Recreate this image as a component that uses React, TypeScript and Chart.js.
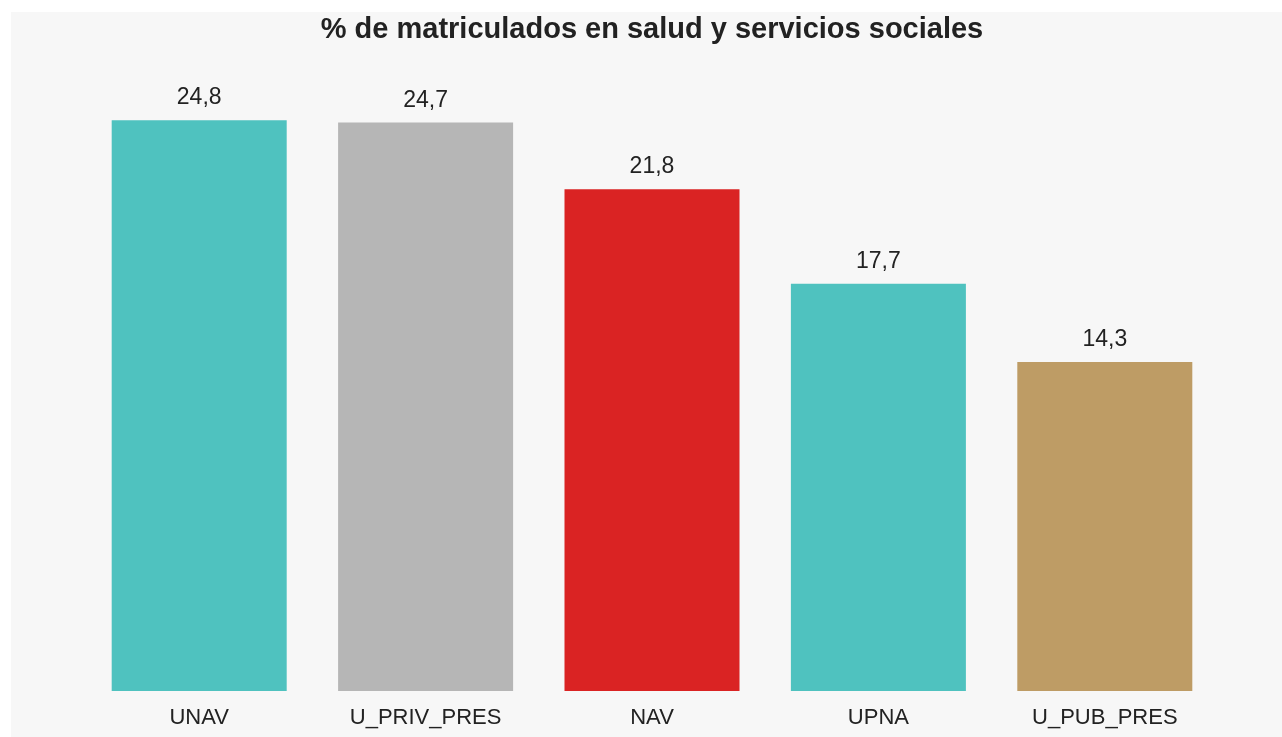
import React, { useEffect, useRef } from "react";
import { Chart, registerables } from "chart.js";

Chart.register(...registerables);

const categories = ["UNAV", "U_PRIV_PRES", "NAV", "UPNA", "U_PUB_PRES"];
const values = [24.8, 24.7, 21.8, 17.7, 14.3];
const barColors = ["#4FC2BF", "#B6B6B6", "#DA2323", "#4FC2BF", "#BE9C65"];
const titleText = "% de matriculados en salud y servicios sociales";

const FONT = "Arial, 'Liberation Sans', Helvetica, sans-serif";

const valueLabels = {
  id: "valueLabels",
  afterDatasetsDraw(chart: any) {
    const ctx = chart.ctx;
    const meta = chart.getDatasetMeta(0);
    ctx.save();
    ctx.font = `23px ${FONT}`;
    ctx.fillStyle = "#222";
    ctx.textAlign = "center";
    ctx.textBaseline = "alphabetic";
    meta.data.forEach((bar: any, i: number) => {
      const v = chart.data.datasets[0].data[i] as number;
      ctx.fillText(v.toFixed(1).replace(".", ","), bar.x, bar.y - 16);
    });
    ctx.restore();
  },
};

export default function App() {
  const ref = useRef<HTMLCanvasElement | null>(null);
  useEffect(() => {
    if (!ref.current) return;
    const chart = new Chart(ref.current, {
      type: "bar",
      data: {
        labels: categories,
        datasets: [
          {
            data: values,
            backgroundColor: barColors,
            borderWidth: 0,
            barPercentage: 0.773,
            categoryPercentage: 1,
          },
        ],
      },
      options: {
        animation: false,
        responsive: true,
        maintainAspectRatio: false,
        layout: { padding: { left: 75, right: 64, top: 0, bottom: -8.4 } },
        plugins: {
          legend: { display: false },
          tooltip: { enabled: false },
          title: {
            display: true,
            text: titleText,
            color: "#222",
            font: { family: FONT, size: 29, weight: "bold" },
            padding: { top: 1, bottom: 0 },
          },
        },
        scales: {
          x: {
            grid: { display: false, drawTicks: false, tickLength: 0 },
            border: { display: false },
            ticks: {
              color: "#222",
              font: { family: FONT, size: 22 },
              padding: 14,
            },
          },
          y: {
            display: false,
            min: 0,
            max: 27.95,
          },
        },
      },
      plugins: [valueLabels],
    });
    return () => chart.destroy();
  }, []);
  return (
    <div
      style={{
        position: "absolute",
        left: 11,
        top: 12,
        width: 1271,
        height: 725,
        background: "#F7F7F7",
      }}
    >
      <canvas ref={ref} />
    </div>
  );
}
